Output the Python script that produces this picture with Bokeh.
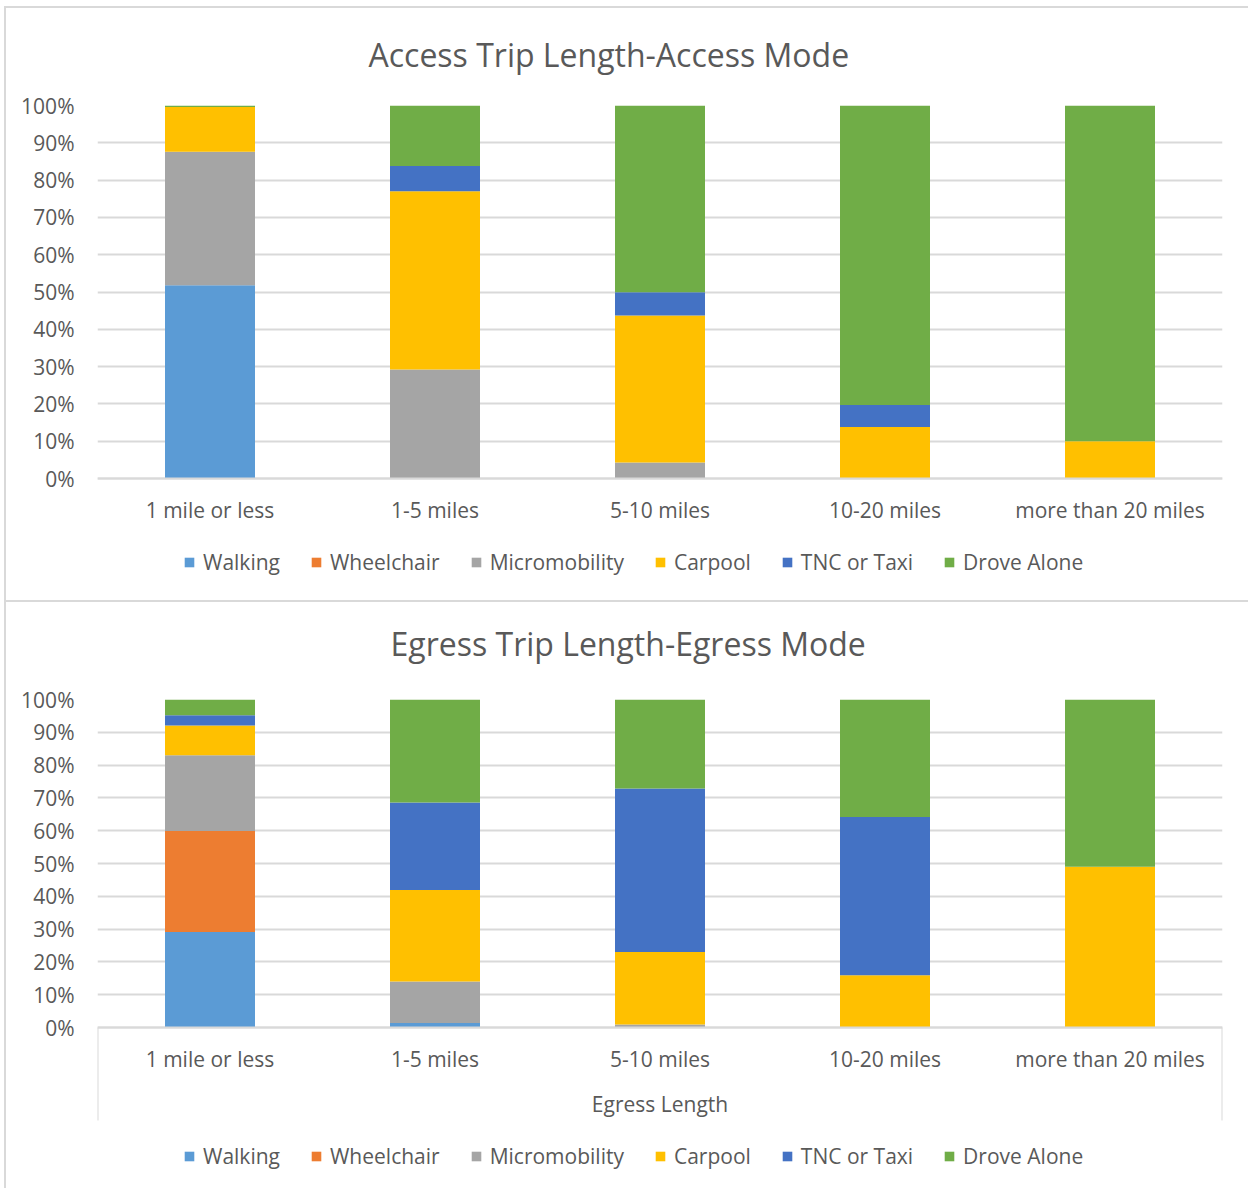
from bokeh.plotting import figure
from bokeh.models import (Range1d, FixedTicker, NumeralTickFormatter, Legend, LegendItem,
                          ColumnDataSource, Title)
from bokeh.layouts import column
from bokeh.embed import file_html
from bokeh.resources import INLINE

categories = ["1 mile or less", "1-5 miles", "5-10 miles", "10-20 miles", "more than 20 miles"]
modes = ["Walking", "Wheelchair", "Micromobility", "Carpool", "TNC or Taxi", "Drove Alone"]
colors = ["#5B9BD5", "#ED7D31", "#A5A5A5", "#FFC000", "#4472C4", "#70AD47"]
y_ticks = [0, 10, 20, 30, 40, 50, 60, 70, 80, 90, 100]

# Access (percent)
access_walking = [51.8, 0, 0, 0, 0]
access_wheelchair = [0, 0, 0, 0, 0]
access_micromobility = [35.8, 29.2, 4.3, 0, 0]
access_carpool = [12.0, 47.8, 39.4, 13.8, 10.0]
access_tnc = [0, 6.8, 6.2, 5.9, 0]
access_drove = [0.4, 16.2, 50.1, 80.3, 90.0]

# Egress (percent)
egress_walking = [29.1, 1.4, 0, 0, 0]
egress_wheelchair = [30.8, 0, 0, 0, 0]
egress_micromobility = [23.1, 12.6, 0.9, 0, 0]
egress_carpool = [9.1, 27.9, 22.1, 15.9, 49.0]
egress_tnc = [3.1, 26.7, 49.9, 48.3, 0]
egress_drove = [4.8, 31.4, 27.1, 35.8, 51.0]

TXT = "#595959"
GRID = "#d9d9d9"
FONT = "Open Sans"
W = 1248
LEFT, FRAME_W = 97, 1125


def make_chart(title, series, top, frame_h, plot_px, title_offset, title_gap, legend_y, shadow,
               axis_title=None, box_px=None):
    n = len(categories)
    xs = list(range(1, n + 1))
    data = {"x": xs}
    for m, vals in zip(modes, series):
        data[m] = [v / 100 for v in vals]
    src = ColumnDataSource(data)
    # plot_px: pixels from 100% to 0%; the frame continues below 0% to hold axis labels and legend
    ymin = -(frame_h - plot_px) / plot_px
    p = figure(frame_width=FRAME_W, frame_height=frame_h, output_backend="svg", toolbar_location=None,
               x_range=Range1d(0.5, n + 0.5), y_range=Range1d(ymin, 1.0),
               min_border_left=LEFT, min_border_right=W - LEFT - FRAME_W,
               min_border_top=top, min_border_bottom=0,
               styles={"box-shadow": shadow})
    p.outline_line_color = None
    p.background_fill_color = None
    p.border_fill_color = None
    rends = p.vbar_stack(modes, x="x", width=0.4, source=src, color=colors, line_color=None)

    p.title.text = title
    p.title.text_font = FONT
    p.title.text_font_size = "32px"
    p.title.text_font_style = "normal"
    p.title.text_color = TXT
    p.title.align = "left"
    p.title.offset = title_offset
    p.title.standoff = 0
    # empty spacer between the title and the plot area
    spacer = Title(text=" ", text_font_size="1px", standoff=title_gap)
    p.add_layout(spacer, "above")

    p.yaxis.ticker = FixedTicker(ticks=[t / 100 for t in y_ticks])
    p.yaxis.formatter = NumeralTickFormatter(format="0%")
    p.yaxis.axis_line_color = None
    p.yaxis.major_tick_line_color = None
    p.yaxis.minor_tick_line_color = None
    p.yaxis.major_label_text_font = FONT
    p.yaxis.major_label_text_font_size = "21px"
    p.yaxis.major_label_text_color = TXT
    p.yaxis.major_label_standoff = 17

    p.xaxis.fixed_location = 0
    p.xaxis.ticker = FixedTicker(ticks=xs)
    p.xaxis.major_label_overrides = {x: c for x, c in zip(xs, categories)}
    p.xaxis.axis_line_color = GRID
    p.xaxis.axis_line_width = 2
    p.xaxis.major_tick_line_color = None
    p.xaxis.minor_tick_line_color = None
    p.xaxis.major_label_text_font = FONT
    p.xaxis.major_label_text_font_size = "21px"
    p.xaxis.major_label_text_color = TXT
    p.xaxis.major_label_standoff = 11

    p.xgrid.visible = False
    p.ygrid.grid_line_color = GRID
    p.ygrid.grid_line_width = 2

    if axis_title is not None:
        p.xaxis.axis_label = axis_title
        p.xaxis.axis_label_text_font = FONT
        p.xaxis.axis_label_text_font_size = "21px"
        p.xaxis.axis_label_text_font_style = "normal"
        p.xaxis.axis_label_text_color = TXT
        p.xaxis.axis_label_standoff = 14
        yb = -box_px / plot_px
        p.segment(x0=[0.5, n + 0.5], x1=[0.5, n + 0.5], y0=[0, 0], y1=[yb, yb],
                  line_color=GRID, line_width=2)

    items = [LegendItem(label=m, renderers=[r]) for m, r in zip(modes, rends)]
    leg = Legend(items=items, orientation="horizontal", location=(86, legend_y),
                 glyph_width=12, glyph_height=12, label_standoff=8, spacing=30, label_height=26,
                 label_text_font=FONT, label_text_font_size="21px", label_text_color=TXT,
                 border_line_color=None, background_fill_alpha=0, padding=0, margin=0)
    p.add_layout(leg)
    return p


shadow_top = ("inset 4px 0 0 0 #ffffff, inset 0 6px 0 0 #ffffff, "
              "inset 6px 0 0 0 #d9d9d9, inset 0 8px 0 0 #d9d9d9")
shadow_bottom = "inset 4px 0 0 0 #ffffff, inset 6px 0 0 0 #d9d9d9, inset 0 2px 0 0 #d9d9d9"

p1 = make_chart("Access Trip Length-Access Mode",
                [access_walking, access_wheelchair, access_micromobility, access_carpool, access_tnc, access_drove],
                105, 495, 373, 271, 27, 24, shadow_top)
p2 = make_chart("Egress Trip Length-Egress Mode",
                [egress_walking, egress_wheelchair, egress_micromobility, egress_carpool, egress_tnc, egress_drove],
                99, 489, 328, 293, 32, 18, shadow_bottom, axis_title="Egress Length", box_px=93)

layout = column(p1, p2, spacing=0)
open("out.html", "w").write(file_html(layout, INLINE))
